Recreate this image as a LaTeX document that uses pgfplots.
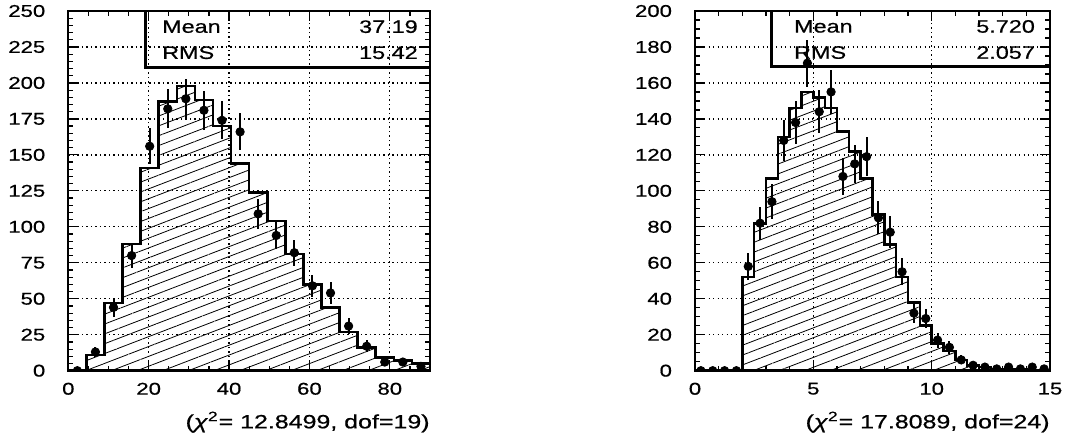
\documentclass[border=0pt]{standalone}
\usepackage{fontspec}
\setmainfont{Liberation Sans}[FakeStretch=1.3,FakeBold=0.6]
\usepackage{pgfplots}
\pgfplotsset{compat=1.18}
\usetikzlibrary{patterns.meta}

\pgfplotstableread{
x y
0 0
4.5 11
9 47
13.5 88
18 141
22.5 187
27 198
31.5 188
36 170
40.5 144
45 124
49.5 104
54 81
58.5 60
63 44
67.5 27
72 16
76.5 9
81 7
85.5 5
90 5
}\lefthist

\pgfplotstableread{
x y e
2.25 0 0
6.75 13 3.61
11.25 44 6.63
15.75 80 8.94
20.25 156 12.49
24.75 182 13.49
29.25 189 13.75
33.75 181 13.45
38.25 174 13.19
42.75 166 12.88
47.25 109 10.44
51.75 94 9.70
56.25 82 9.06
60.75 59 7.68
65.25 54 7.35
69.75 31 5.57
74.25 17 4.12
78.75 6 2.45
83.25 6 2.45
87.75 3 1.73
}\leftdata

\pgfplotstableread{
x y
0 0
0.5 0
1 0
1.5 0
2 52
2.5 82
3 107
3.5 130
4 146
4.5 155
5 152
5.5 146
6 133
6.5 122
7 107
7.5 87
8 70
8.5 52
9 38
9.5 25
10 15
10.5 11
11 6
11.5 3
12 2
12.5 1
13 0.5
13.5 0.5
14 0
14.5 0
15 0
}\righthist

\pgfplotstableread{
x y e
0.25 0 0
0.75 0 0
1.25 0 0
1.75 0 0
2.25 58 7.62
2.75 82 9.06
3.25 94 9.70
3.75 128 11.31
4.25 138 11.75
4.75 171 13.08
5.25 144 12.00
5.75 155 12.45
6.25 108 10.39
6.75 115 10.72
7.25 119 10.91
7.75 85 9.22
8.25 77 8.77
8.75 55 7.42
9.25 32 5.66
9.75 29 5.39
10.25 17 4.12
10.75 13 3.61
11.25 6 2.45
11.75 3 1.73
12.25 2 1.41
12.75 1 1
13.25 2 1.41
13.75 1 1
14.25 2 1.41
14.75 1 1
}\rightdata

\pgfplotsset{roothist/.style={
  scale only axis, height=179.85pt,
  axis line style={line width=1.2pt},
  tick align=inside, xtick pos=both, ytick pos=both,
  major tick length=5pt, minor tick length=2.5pt,
  every tick/.style={black, line width=0.6pt},
  xmajorgrids, ymajorgrids,
  major grid style={black, line width=0.65pt, dash pattern=on 0.65pt off 1.6pt},
  /pgf/number format/assume math mode=true,
  tick label style={font=\fontsize{8.5}{10}\selectfont},
  yticklabel style={xshift=-8pt},
  xticklabel style={yshift=-2.5pt},
  xlabel style={font=\fontsize{9.6}{11}\selectfont, at={(axis description cs:1,-0.1426)}, anchor=east, inner sep=0pt},
  clip marker paths=true,
  ymin=0,
},
histstyle/.style={const plot, draw=black, line width=1.3pt,
  pattern={Lines[angle=21,distance=4.6pt,line width=0.4pt]}, pattern color=black},
datastyle/.style={black, only marks, mark=*, mark size=2.1pt,
  error bars/.cd, y dir=both, y explicit, error mark=none,
  error bar style={line width=1pt}},
}

\begin{document}
\begin{tikzpicture}
\path[use as bounding box] (0,0) rectangle (542pt,221.5pt);

\begin{axis}[roothist, at={(34.15pt,36.15pt)}, anchor=south west,
  width=180.85pt, xmin=0, xmax=90, ymax=250,
  xtick={0,20,40,60,80}, minor xtick={5,10,...,90},
  ytick={0,25,...,250}, minor ytick={0,5,...,250},
  xlabel={(\textit{χ}\textsuperscript{2}= 12.8499, dof=19)}]
\addplot[histstyle] table[x=x,y=y] {\lefthist} \closedcycle;
\addplot[datastyle] table[x=x,y=y,y error=e] {\leftdata};
\draw[line width=1.4pt] (axis cs:19.3,210.8) rectangle (axis cs:90,250);
\node[anchor=west, font=\fontsize{9}{10}\selectfont] at (axis cs:21.6,239.1) {Mean};
\node[anchor=east, font=\fontsize{9}{10}\selectfont] at (axis cs:88.7,239.1) {37.19};
\node[anchor=west, font=\fontsize{9}{10}\selectfont] at (axis cs:21.6,221) {RMS};
\node[anchor=east, font=\fontsize{9}{10}\selectfont] at (axis cs:88.7,221) {15.42};
\end{axis}

\begin{axis}[roothist, at={(347.5pt,36.15pt)}, anchor=south west,
  width=177.5pt, xmin=0, xmax=15, ymax=200,
  xtick={0,5,10,15}, minor xtick={0,1,...,15},
  ytick={0,20,...,200}, minor ytick={0,5,...,200},
  xlabel={(\textit{χ}\textsuperscript{2}= 17.8089, dof=24)}]
\addplot[histstyle] table[x=x,y=y] {\righthist} \closedcycle;
\addplot[datastyle] table[x=x,y=y,y error=e] {\rightdata};
\draw[line width=1.4pt] (axis cs:3.24,169.3) rectangle (axis cs:15,200);
\node[anchor=west, font=\fontsize{9}{10}\selectfont] at (axis cs:3.89,191.4) {Mean};
\node[anchor=east, font=\fontsize{9}{10}\selectfont] at (axis cs:14.66,191.4) {5.720};
\node[anchor=west, font=\fontsize{9}{10}\selectfont] at (axis cs:3.89,176.9) {RMS};
\node[anchor=east, font=\fontsize{9}{10}\selectfont] at (axis cs:14.66,176.9) {2.057};
\end{axis}
\end{tikzpicture}
\end{document}
